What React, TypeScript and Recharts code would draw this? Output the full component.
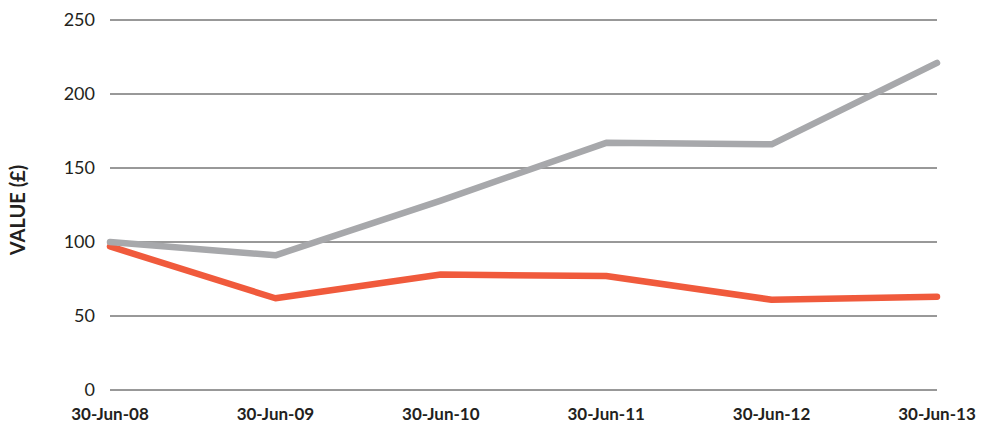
import { LineChart, Line, XAxis, YAxis, CartesianGrid, Label } from "recharts";

const dates = ["30-Jun-08", "30-Jun-09", "30-Jun-10", "30-Jun-11", "30-Jun-12", "30-Jun-13"];
const greyValues = [100, 91, 128, 167, 166, 221];
const redValues = [97, 62, 78, 77, 61, 63];
const yTicks = [0, 50, 100, 150, 200, 250];

const data = dates.map((date, i) => ({
  date,
  grey: greyValues[i],
  red: redValues[i],
}));

const FONT = "Lato, 'Open Sans', sans-serif";

export default function App() {
  return (
    <div style={{ position: "absolute", left: 0, top: 0, background: "#fff" }}>
      <LineChart
        width={983}
        height={432}
        data={data}
        margin={{ top: 20, right: 46, bottom: 0, left: 0 }}
      >
        <CartesianGrid vertical={false} stroke="#333" strokeWidth={1} />
        <XAxis
          dataKey="date"
          axisLine={false}
          tickLine={false}
          interval={0}
          tickMargin={12}
          height={42}
          tick={{ fill: "#231f20", fontSize: 17, fontWeight: 700, fontFamily: FONT }}
        />
        <YAxis
          domain={[0, 250]}
          ticks={yTicks}
          axisLine={false}
          tickLine={false}
          width={110}
          tickMargin={9}
          tick={{ fill: "#231f20", fontSize: 18, fontFamily: FONT }}
        >
          <Label
            content={() => (
              <text
                x={17}
                y={210}
                transform="rotate(-90 17 210)"
                textAnchor="middle"
                dominantBaseline="central"
                fill="#231f20"
                fontSize={20}
                fontWeight={700}
                fontFamily={FONT}
              >
                VALUE (£)
              </text>
            )}
          />
        </YAxis>
        <Line
          dataKey="red"
          stroke="#f05a3c"
          strokeWidth={6.5}
          strokeLinejoin="round"
          strokeLinecap="round"
          dot={false}
          isAnimationActive={false}
        />
        <Line
          dataKey="grey"
          stroke="#a7a8ab"
          strokeWidth={6.5}
          strokeLinejoin="round"
          strokeLinecap="round"
          dot={false}
          isAnimationActive={false}
        />
      </LineChart>
    </div>
  );
}
